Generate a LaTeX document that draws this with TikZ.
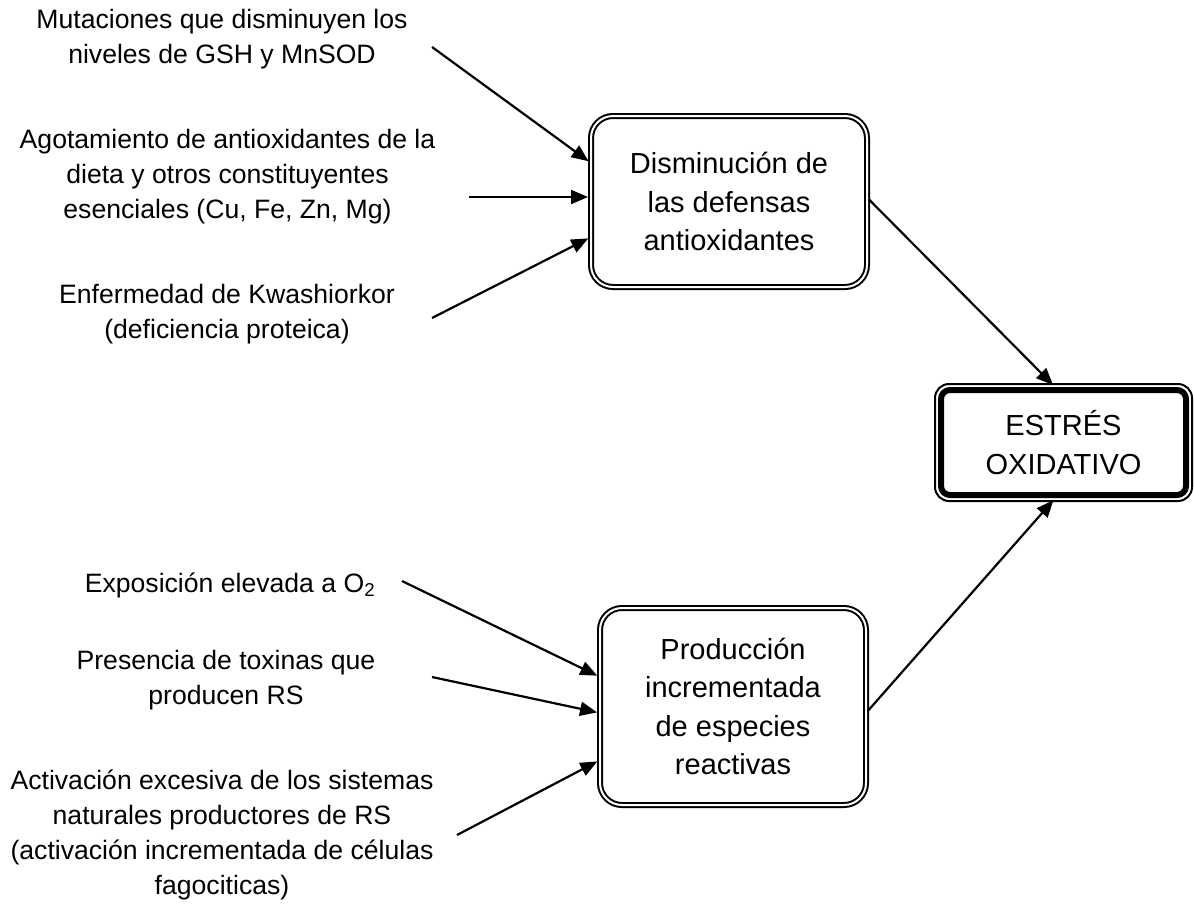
\documentclass[tikz,border=0pt]{standalone}
\usepackage{fontspec}
\setmainfont{Liberation Sans}
\usetikzlibrary{arrows.meta,calc}

\begin{document}
\begin{tikzpicture}[x=1pt,y=-1pt,
  cause/.style={align=center, inner sep=0pt, font=\fontsize{26.6}{35}\selectfont},
  effect/.style={draw, double, line width=2pt, double distance=2pt,
    rounded corners=22pt, outer sep=0pt, inner sep=0pt, align=center,
    font=\fontsize{29}{38.3}\selectfont},
  outcome/.style={draw, line width=6pt, rounded corners=9pt, outer sep=0pt,
    inner sep=0pt, align=center, font=\fontsize{29}{38.3}\selectfont},
  link/.style={line width=2.2pt, -{Triangle[length=17pt,width=14pt]}},
]
\useasboundingbox (0,0) rectangle (1194,903);

% central boxes
\node[effect, minimum width=276pt, minimum height=171pt] (def) at (729,201.5)
  {Disminución de\\las defensas\\antioxidantes};
\node[effect, minimum width=266pt, minimum height=197pt] (prod) at (733,706.5)
  {Producción\\incrementada\\de especies\\reactivas};
\node[outcome, minimum width=245pt, minimum height=105pt] (ox) at (1063.5,442.5)
  {ESTRÉS\\OXIDATIVO};
\draw[line width=2pt, rounded corners=14pt]
  ($(ox.north west)+(-6,-6)$) rectangle ($(ox.south east)+(6,6)$);

% causes
\node[cause] (mut) at (222,39) {Mutaciones que disminuyen los\\niveles de GSH y MnSOD};
\node[cause] (ago) at (227.5,177) {Agotamiento de antioxidantes de la\\dieta y otros constituyentes\\esenciales (Cu, Fe, Zn, Mg)};
\node[cause] (kwa) at (227,314) {Enfermedad de Kwashiorkor\\(deficiencia proteica)};
\node[cause] (exp) at (230,585) {Exposición elevada a O\textsubscript{2}};
\node[cause] (tox) at (226,680) {Presencia de toxinas que\\producen RS};
\node[cause] (act) at (222,835) {Activación excesiva de los sistemas\\naturales productores de RS\\(activación incrementada de células\\fagociticas)};

% arrow tails
\coordinate (mutT) at (432,47);
\coordinate (agoT) at (469,197);
\coordinate (kwaT) at (432,318);
\coordinate (expT) at (402,581);
\coordinate (toxT) at (432,677);
\coordinate (actT) at (457,835);

% connectors
\draw[link, shorten >=3pt] (mutT) -- ($(def.west)+(0,-38.5)$);
\draw[link, shorten >=3pt] (agoT) -- ($(def.west)+(0,-4.5)$);
\draw[link, shorten >=3pt] (kwaT) -- ($(def.west)+(0,35.5)$);
\draw[link, shorten >=3pt] (expT) -- ($(prod.west)+(0,-29.5)$);
\draw[link, shorten >=3pt] (toxT) -- ($(prod.west)+(0,6.5)$);
\draw[link, shorten >=3pt] (actT) -- ($(prod.west)+(0,53.5)$);
\draw[link, shorten <=3pt, shorten >=7pt] ($(def.east)+(0,-4)$) -- ($(ox.north)+(-5.5,0)$);
\draw[link, shorten <=3pt, shorten >=7pt] ($(prod.east)+(0,6.5)$) -- ($(ox.south)+(-5.5,0)$);
\end{tikzpicture}
\end{document}
